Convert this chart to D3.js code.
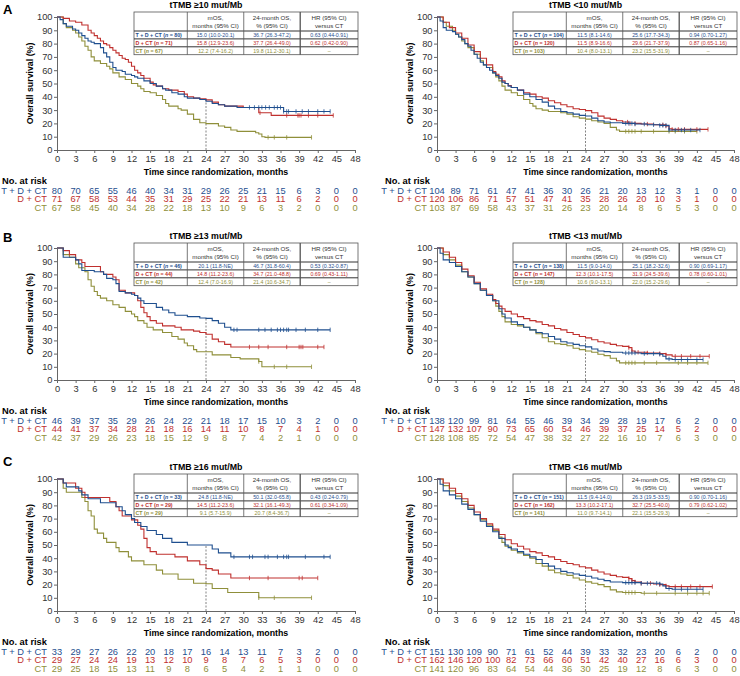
<!DOCTYPE html>
<html>
<head>
<meta charset="utf-8">
<script src="https://cdn.jsdelivr.net/npm/d3@7"></script>
<style>
  body { margin: 0; background: #fff; }
  svg { font-family: 'Liberation Sans', Arial, sans-serif; }
</style>
</head>
<body>
<div id="chart"></div>
<script>
// ---- data ----
var monthTicks = [0, 3, 6, 9, 12, 15, 18, 21, 24, 27, 30, 33, 36, 39, 42, 45, 48];
var survivalTicks = [0, 10, 20, 30, 40, 50, 60, 70, 80, 90, 100];
var armNames = ['T + D + CT', 'D + CT', 'CT'];
var armColors = ['#1f4f8f', '#c0302e', '#8f8f3a'];
var panelLetters = ['A', '', 'B', '', 'C', ''];
var panelTitles = ['tTMB \u226510 mut/Mb', 'tTMB <10 mut/Mb', 'tTMB \u226513 mut/Mb',
                   'tTMB <13 mut/Mb', 'tTMB \u226516 mut/Mb', 'tTMB <16 mut/Mb'];
var tableHeaders = [['mOS,', 'months (95% CI)'], ['24-month OS,', '% (95% CI)'], ['HR (95% CI)', 'versus CT']];

var armN = [[80, 71, 67], [104, 120, 103], [46, 44, 42], [138, 147, 128], [33, 29, 29], [151, 162, 141]];
var mosCI = [
  ['15.0 (10.0-20.1)', '15.8 (12.9-23.6)', '12.2 (7.4-16.2)'],
  ['11.5 (8.1-14.6)', '11.5 (8.9-16.6)', '10.4 (8.0-13.1)'],
  ['20.1 (11.8-NE)', '14.8 (11.2-23.6)', '12.4 (7.0-16.9)'],
  ['11.5 (9.0-14.0)', '12.3 (10.1-17.5)', '10.6 (9.0-13.1)'],
  ['24.8 (11.8-NE)', '14.5 (11.2-23.6)', '9.1 (5.7-15.9)'],
  ['11.5 (9.4-14.0)', '13.3 (10.2-17.1)', '11.0 (9.7-14.1)']
];
var os24CI = [
  ['36.7 (26.3-47.2)', '37.7 (26.4-49.0)', '19.8 (11.2-30.1)'],
  ['25.6 (17.7-34.3)', '29.6 (21.7-37.9)', '23.2 (15.5-31.9)'],
  ['46.7 (31.8-60.4)', '34.7 (21.0-48.8)', '21.4 (10.6-34.7)'],
  ['25.1 (18.2-32.6)', '31.9 (24.5-39.6)', '22.0 (15.2-29.6)'],
  ['50.1 (32.0-65.8)', '32.1 (16.1-49.3)', '20.7 (8.4-36.7)'],
  ['26.3 (19.5-33.5)', '32.7 (25.5-40.0)', '22.1 (15.5-29.3)']
];
var hrCI = [
  ['0.63 (0.44-0.91)', '0.62 (0.42-0.90)', '\u2013'],
  ['0.94 (0.70-1.27)', '0.87 (0.65-1.16)', '\u2013'],
  ['0.53 (0.32-0.87)', '0.69 (0.43-1.11)', '\u2013'],
  ['0.90 (0.69-1.17)', '0.78 (0.60-1.01)', '\u2013'],
  ['0.43 (0.24-0.79)', '0.61 (0.34-1.09)', '\u2013'],
  ['0.90 (0.70-1.16)', '0.79 (0.62-1.02)', '\u2013']
];
var os24 = [[36.7, 37.7, 19.8], [25.6, 29.6, 23.2], [46.7, 34.7, 21.4],
            [25.1, 31.9, 22.0], [50.1, 32.1, 20.7], [26.3, 32.7, 22.1]];

// numbers at risk (every 3 months, 0..48)
var riskA1 = [[80, 70, 65, 55, 46, 40, 34, 31, 29, 26, 25, 21, 15, 6, 3, 0, 0],
              [71, 67, 58, 53, 44, 35, 31, 29, 25, 22, 21, 13, 11, 6, 2, 0, 0],
              [67, 58, 45, 40, 34, 28, 22, 18, 13, 10, 9, 6, 3, 2, 0, 0, 0]];
var riskA2 = [[104, 89, 71, 61, 47, 41, 36, 30, 26, 21, 20, 13, 12, 3, 1, 0, 0],
              [120, 106, 86, 71, 57, 51, 47, 41, 35, 28, 26, 20, 10, 3, 1, 0, 0],
              [103, 87, 69, 58, 43, 37, 31, 26, 23, 20, 14, 8, 6, 5, 3, 0, 0]];
var riskB1 = [[46, 39, 37, 35, 29, 26, 24, 22, 21, 18, 17, 15, 10, 3, 2, 0, 0],
              [44, 41, 37, 34, 28, 21, 18, 16, 14, 11, 10, 8, 7, 4, 1, 0, 0],
              [42, 37, 29, 26, 23, 18, 15, 12, 9, 8, 7, 4, 2, 1, 0, 0, 0]];
var riskB2 = [[138, 120, 99, 81, 64, 55, 46, 39, 34, 29, 28, 19, 17, 6, 2, 0, 0],
              [147, 132, 107, 90, 73, 65, 60, 54, 46, 39, 37, 25, 14, 5, 2, 0, 0],
              [128, 108, 85, 72, 54, 47, 38, 32, 27, 22, 16, 10, 7, 6, 3, 0, 0]];
var riskC1 = [[33, 29, 27, 26, 22, 20, 18, 17, 16, 14, 13, 11, 7, 3, 2, 0, 0],
              [29, 27, 24, 24, 19, 13, 12, 10, 9, 8, 7, 6, 5, 3, 0, 0, 0],
              [29, 25, 18, 15, 13, 11, 9, 8, 6, 5, 4, 2, 1, 1, 0, 0, 0]];
var riskC2 = [[151, 130, 109, 90, 71, 61, 52, 44, 39, 33, 32, 23, 20, 6, 2, 0, 0],
              [162, 146, 120, 100, 82, 73, 66, 60, 51, 42, 40, 27, 16, 6, 3, 0, 0],
              [141, 120, 96, 83, 64, 54, 44, 36, 30, 25, 19, 12, 8, 6, 3, 0, 0]];

// Kaplan-Meier steps [month, % surviving] and censor times
var kmA1 = [
  [[0,100],[0.5,98],[1,95],[1.5,93],[2.5,91],[3,90],[3.5,88],[4,86],[4.5,84],[5,82],[5.5,81],[6,80],[7,77],[7.5,73],[8,70],[8.5,66],[9,62],[9.5,60],[10.5,59],[11,57],[12,56],[12.5,55],[13,54],[14,52],[15,50],[16,48],[17,46],[17.5,45],[18.5,43],[19.5,42],[20.5,40],[21,39],[23,38],[24,36.7],[25,35],[26,34],[27,33],[29,32],[36.5,29]],
  [[0,100],[1,99],[2,97],[3,96],[4,94],[5,90],[5.5,88],[6,86],[6.5,84],[7,82],[7.5,80],[8,79],[8.5,77],[9,75],[9.5,73],[10,71],[10.5,69],[11,68],[11.5,66],[12,63],[12.5,60],[13,58],[13.5,56],[14,54],[15,51],[15.5,49],[16,48],[17,46],[18,45],[19.5,44],[20.5,42],[21,40],[22,39],[23,38.5],[24,37.7],[25,36],[26,34],[27,33],[30,32],[32.5,28],[34.5,26]],
  [[0,100],[1,95],[1.5,92],[2.5,90],[3,88],[3.5,85],[4,82],[4.5,78],[5,75],[5.5,70],[6,67],[7,65],[8,63],[8.5,61],[9,58],[10,55],[11,53],[12,50],[13,48],[13.5,46],[14,44],[15,43],[16,41],[17,38],[17.5,35],[18,33],[19.5,31],[20,30],[21,27],[22,23],[23,20.5],[24,19.8],[26,18],[27,17],[28,15],[29,14],[32,13],[32.5,12],[33,10],[33.5,9.5]]
];
var censorA1 = [[31, 31.8, 32.5, 33, 33.6, 34.2, 35, 35.5, 36, 36.5, 37, 37.3, 38.5, 39.5, 40.5, 42, 43, 44],
                [32.7, 37, 38.8, 39, 39.3, 40.5, 42, 44.5],
                [34, 35, 37, 41]];

var kmA2 = [
  [[0,100],[0.5,97],[1,92],[1.5,90],[2.5,89],[3,87],[3.5,85],[4,83],[4.5,80],[5,78],[5.5,75],[6,72],[6.5,69],[7,66],[7.5,64],[8,62],[8.5,60],[9,58],[9.5,56],[10,54],[10.5,51],[11,50],[11.5,48],[12,47],[13,45],[14,42],[15,40],[16,38],[17,36],[18,33],[19,31],[20,29],[21,28],[22,27],[23,26],[24,25.6],[25,24],[26,22],[27,21],[28,20.5],[30,20],[32,19.5],[34,19],[36,18.5],[37.5,15]],
  [[0,100],[1,96],[2,92],[3,88],[4,84],[5,79],[6,74],[7,69],[8,64],[9,59],[9.5,57],[10,55],[10.5,52],[11,50],[11.5,48.5],[12,47],[13,45],[14,43],[15,42],[16,40],[17,39],[18,37],[19,35.5],[20,34],[21,32.5],[22,31],[23,30.5],[24,29.6],[25,28],[26,25.5],[27,24],[28,23],[29,22],[30,21],[31,20],[33,19.5],[35,19],[37,18],[37.5,16],[38,15.5]],
  [[0,100],[1,96],[1.5,93],[2.5,90],[3,87],[3.5,85],[4,82],[4.5,80],[5,77],[6,72],[7,67],[7.5,64],[8,62],[9,58],[9.5,55],[10,52],[10.5,48],[11,45],[12,43],[13,41],[14,38],[15,35],[15.5,33],[16,31],[17,30],[18,29],[20,28],[21,27],[22,25],[23,24],[24,23.2],[25,22],[26,21],[27,20],[28,17],[29,15],[29.5,14]]
];
var censorA2 = [[30.5, 31, 31.5, 32, 33.5, 35, 36, 36.5, 37, 37.5, 38.5, 39.5, 40, 41, 42.5],
                [30.8, 31.2, 32, 34, 36.5, 37, 38, 39, 40, 42, 43.8],
                [30.5, 31, 31.5, 32, 33, 35, 37.5, 38.5, 40, 42]];

var kmB1 = [
  [[0,100],[1,93],[3,91],[3.5,88],[4,83],[6,82],[7.5,80],[8,77],[9,76],[9.5,73],[10,67],[11,66],[12,65],[12.5,64],[13,62],[13.5,60],[14,58],[16,55],[17,53],[18,51],[19,49],[21,48],[23,47],[24,46.7],[25,45],[26,43],[27,40],[28,38]],
  [[0,100],[1,98],[2,95],[3,91],[4,89],[4.5,86],[7,82],[7.5,80],[9,78],[9.5,76],[10,68],[11,66],[12.5,64],[13,60],[13.5,55],[14,51],[14.5,48],[15,45],[16,43],[17,41],[19,40],[20,38],[22,37],[23,36],[24,34.7],[25,31],[26,29],[27,27],[28,25]],
  [[0,100],[1,95],[2,93],[3,88],[3.5,85],[4.5,82],[5,76],[5.5,71],[6,67],[6.5,64],[7,62],[8,60],[9,57],[10,55],[11,52],[12,50],[12.5,48],[13,45],[14,43],[14.5,40],[15.5,38],[17,36],[18.5,33],[19.5,31],[20.5,28],[21,26],[22,23],[22.5,21.4],[25,19],[28,17],[29.5,16],[32.5,14],[33,10]]
];
var censorB1 = [[28.5, 29, 32.5, 33.5, 34.5, 35.5, 36, 36.5, 37, 37.3, 38.5, 40, 42, 44],
                [31, 32.5, 34, 37, 39, 39.3, 39.6, 42, 43],
                [32.5, 35, 37, 41]];

var kmB2 = [
  [[0,100],[0.5,96],[1,91],[2,89],[3,86],[4,82],[5,78],[6,73],[7,68],[8,64],[9,60],[10,54],[10.5,50],[11,47],[12,44],[13,42],[14,40],[15,38],[16,36],[17,35],[18,33],[19,31],[20,29],[21,28],[22,27],[23,26],[24,25.1],[25,23.5],[26,22],[27,21.5],[28,21],[30,20.5],[33,20],[36,19.5],[36.5,18],[37,16],[38,15.5]],
  [[0,100],[1,97],[2,93],[3,89],[4,84],[5,79],[6,74],[7,69],[8,65],[9,61],[9.5,58],[10,56],[10.5,54],[11,52],[12,50],[13,48],[14,46.5],[15,45],[16,44],[17,42],[18,41],[19,39],[20,38],[21,36],[22,34.5],[23,33],[24,31.9],[25,30.5],[26,29],[27,28],[28,27],[29,26],[30,25.5],[31,24.5],[31.5,22],[32,21],[34,20.5],[36,20],[37,19],[38,18]],
  [[0,100],[1,95],[2,91],[3,87],[4,82],[5,78],[6,73],[7,68],[8,64],[9,60],[9.5,56],[10,52],[10.5,48],[11,44],[12,42],[13,41],[14,40],[15,38],[16,35],[17,32],[18,29],[19,27.5],[20,27],[21,26],[22,24],[23,23],[24,22],[25,21],[26,19.5],[27,18.5],[28,16.5],[29,14.5],[29.5,13]]
];
var censorB2 = [[30.5, 31, 31.5, 32, 33.5, 35, 36, 37.5, 38.5, 39.5, 40.5, 42, 43],
                [31, 31.5, 32.5, 34, 36, 37, 38.5, 39.5, 41, 42.5, 44],
                [30.5, 31, 31.5, 32, 33.5, 35.5, 39, 40.5, 42, 43.8]];

var kmC1 = [
  [[0,100],[1,97],[1.5,94],[3.5,91],[4,88],[5,85],[7,82],[9.5,79],[10.5,76],[11,73],[12,70],[12.5,67],[13.5,64],[14.5,61],[16,58],[17,55],[18.5,52],[21,50],[25,47],[26,44],[28,41]],
  [[0,100],[1,97],[3,93],[4,90],[4.5,86],[8.5,83],[9.5,79],[10,76],[10.5,72],[12,69],[13,65],[13.5,62],[14,55],[14.5,48],[15,45],[16,43],[19,41],[21,38],[23,35],[24,32.1],[25,31],[26,28],[28,25]],
  [[0,100],[1,93],[1.5,90],[4,86],[4.5,83],[5,76],[5.5,72],[6,62],[6.5,59],[7.5,55],[8,52],[9.5,48],[10,45],[11.5,41],[12,38],[14,35],[16,31],[17,28],[19.5,24],[22,21],[24,20.7],[25,17],[27.5,14],[32.5,10]]
];
var censorC1 = [[28.5, 31, 31.5, 33.5, 34, 35.5, 36.5, 37, 37.3, 40, 43, 44],
                [31, 34, 39, 39.5, 42],
                [32.5, 35, 41]];

var kmC2 = [
  [[0,100],[0.5,96],[1,91],[2,88],[3,85],[4,81],[5,77],[6,73],[7,68],[8,64],[9,60],[10,55],[11,50],[11.5,48],[12,47],[13,45],[14,43],[15,41],[16,39],[17,36],[18,34],[19,32],[20,30],[21,29],[22,28],[23,27],[24,26.3],[25,25],[26,24],[27,23],[28,22],[30,21.5],[33,21],[36,20.5],[36.5,19],[37,17],[38,16.5]],
  [[0,100],[1,97],[2,93],[3,89],[4,85],[5,80],[6,75],[7,70],[8,66],[9,62],[10,58],[11,54],[12,51],[13,49],[14,47],[15,45],[16,44],[17,42],[18,41],[19,39],[20,37.5],[21,36],[22,35],[23,33.5],[24,32.7],[25,31],[26,29.5],[27,28],[28,27],[29,26],[30,25.5],[31,24.5],[31.5,23],[32,22],[33,21],[35,20.5],[36,20],[37,19],[37.5,18.5]],
  [[0,100],[1,95],[2,91],[3,87],[4,83],[5,78],[6,73],[7,69],[8,65],[9,61],[10,56],[10.5,52],[11,49],[12,46],[13,44],[14,42],[15,40],[16,36],[17,34],[18,31],[19,29],[20,28],[21,27],[22,25],[23,23.5],[24,22.1],[25,21],[26,20],[27,18.5],[28,16],[29,14.5],[30,14],[33,13.5]]
];
var censorC2 = [[30.5, 31, 31.5, 32, 33, 34, 35.5, 36, 37.5, 38.5, 39.5, 40.5, 42, 43],
                [31, 31.5, 32, 33, 34.5, 36, 37, 38.5, 39.5, 41, 42.5, 44.5],
                [30.5, 31, 31.5, 32, 33.5, 35.5, 38.5, 40.5, 42, 43, 44]];

// ---- layout ----
var W = 740, H = 676;
var panels = [
  { x0: 57,  x1: 355, y0: 17,  y1: 150, km: kmA1, cens: censorA1, risk: riskA1, lx: 2,   ly: 9 },
  { x0: 437, x1: 734, y0: 17,  y1: 150, km: kmA2, cens: censorA2, risk: riskA2, lx: 385 },
  { x0: 57,  x1: 355, y0: 248, y1: 380, km: kmB1, cens: censorB1, risk: riskB1, lx: 2,   ly: 237 },
  { x0: 437, x1: 734, y0: 248, y1: 380, km: kmB2, cens: censorB2, risk: riskB2, lx: 385 },
  { x0: 57,  x1: 355, y0: 479, y1: 611, km: kmC1, cens: censorC1, risk: riskC1, lx: 2,   ly: 461 },
  { x0: 437, x1: 734, y0: 479, y1: 611, km: kmC2, cens: censorC2, risk: riskC2, lx: 385 }
];

var svg = d3.select('#chart').append('svg')
  .attr('width', W)
  .attr('height', H);

function survAt(steps, t) {
  var v = steps[0][1];
  steps.forEach(function(p) { if (p[0] <= t) v = p[1]; });
  return v;
}

panels.forEach(function(p, pi) {
  var g = svg.append('g');
  var x = d3.scaleLinear().domain([0, 48]).range([p.x0, p.x1]);
  var y = d3.scaleLinear().domain([0, 100]).range([p.y1, p.y0]);

  // panel letter
  if (panelLetters[pi]) {
    g.append('text')
      .attr('x', 3).attr('y', p.ly)
      .attr('dy', '0.36em')
      .style('font-size', '13px')
      .style('font-weight', 'bold')
      .text(panelLetters[pi]);
  }

  // title
  g.append('text')
    .attr('x', (p.x0 + p.x1) / 2).attr('y', p.y0 - 12)
    .attr('dy', '0.36em')
    .attr('text-anchor', 'middle')
    .style('font-size', '8.8px')
    .style('font-weight', 'bold')
    .text(panelTitles[pi]);

  // axes
  var xAxis = g.append('g')
    .attr('transform', 'translate(0,' + p.y1 + ')')
    .call(d3.axisBottom(x).tickValues(monthTicks).tickSize(3).tickPadding(2).tickSizeOuter(0));
  var yAxis = g.append('g')
    .attr('transform', 'translate(' + p.x0 + ',0)')
    .call(d3.axisLeft(y).tickValues(survivalTicks).tickSize(3).tickPadding(1.5).tickSizeOuter(0));
  [xAxis, yAxis].forEach(function(a) {
    a.selectAll('path, line').attr('stroke', '#666');
    a.selectAll('text').style('font-size', '9.3px').attr('fill', '#333')
      .style('font-family', "'Liberation Sans', Arial, sans-serif");
  });

  g.append('text')
    .attr('x', (p.x0 + p.x1) / 2 + 10).attr('y', p.y1 + 22)
    .attr('dy', '0.36em')
    .attr('text-anchor', 'middle')
    .style('font-size', '8.8px')
    .style('font-weight', 'bold')
    .text('Time since randomization, months');

  g.append('text')
    .attr('transform', 'translate(' + (p.x0 - 27) + ',' + ((p.y0 + p.y1) / 2) + ') rotate(-90)')
    .attr('dy', '0.36em')
    .attr('text-anchor', 'middle')
    .style('font-size', '8.8px')
    .style('font-weight', 'bold')
    .text('Overall survival (%)');

  // 24-month reference line
  var top24 = d3.max(os24[pi]);
  g.append('line')
    .attr('x1', x(24)).attr('x2', x(24))
    .attr('y1', y(0)).attr('y2', y(top24))
    .attr('stroke', '#777')
    .attr('stroke-width', 0.9)
    .attr('stroke-dasharray', '2,1.5');

  // curves, CT drawn first so the others sit on top
  var line = d3.line()
    .x(function(d) { return x(d[0]); })
    .y(function(d) { return y(d[1]); })
    .curve(d3.curveStepAfter);

  [2, 1, 0].forEach(function(ai) {
    var steps = p.km[ai].slice();
    var cens = p.cens[ai];
    var tEnd = d3.max(cens);
    steps.push([tEnd, steps[steps.length - 1][1]]);
    g.append('path')
      .datum(steps)
      .attr('fill', 'none')
      .attr('stroke', armColors[ai])
      .attr('stroke-width', 1.1)
      .attr('d', line);
    g.selectAll(null)
      .data(cens)
      .enter().append('line')
      .attr('x1', function(t) { return x(t); })
      .attr('x2', function(t) { return x(t); })
      .attr('y1', function(t) { return y(survAt(p.km[ai], t)) - 2.2; })
      .attr('y2', function(t) { return y(survAt(p.km[ai], t)) + 2.2; })
      .attr('stroke', armColors[ai])
      .attr('stroke-width', 0.8);
  });

  // summary table
  var tx0 = p.x1 - 221, tx1 = p.x1 + 3;
  var cols = [0, 0.238, 0.49, 0.742, 1].map(function(f) { return tx0 + f * (tx1 - tx0); });
  var ty0 = p.y0 - 5, hh = 19, rh = 7.9;
  var ty1 = ty0 + hh + 3 * rh;
  var t = g.append('g');
  t.append('rect')
    .attr('x', tx0).attr('y', ty0)
    .attr('width', tx1 - tx0).attr('height', ty1 - ty0)
    .attr('fill', '#fff')
    .attr('stroke', '#555')
    .attr('stroke-width', 0.8);
  [ty0 + hh, ty0 + hh + rh, ty0 + hh + 2 * rh].forEach(function(yy) {
    t.append('line')
      .attr('x1', tx0).attr('x2', tx1).attr('y1', yy).attr('y2', yy)
      .attr('stroke', '#333').attr('stroke-width', 1);
  });
  cols.slice(1, 4).forEach(function(xx, ci) {
    t.append('line')
      .attr('x1', xx).attr('x2', xx).attr('y1', ty0).attr('y2', ty1)
      .attr('stroke', '#555').attr('stroke-width', ci === 2 ? 1.3 : 0.8);
  });
  tableHeaders.forEach(function(h, ci) {
    var cx = (cols[ci + 1] + cols[ci + 2]) / 2;
    h.forEach(function(s, li) {
      t.append('text')
        .attr('x', cx).attr('y', ty0 + 6 + li * 7.5)
        .attr('dy', '0.36em')
        .attr('text-anchor', 'middle')
        .attr('fill', '#333')
        .style('font-size', '6.2px')
        .text(s);
    });
  });
  armNames.forEach(function(name, ai) {
    var ry = ty0 + hh + rh * ai + rh / 2;
    var lab = t.append('text')
      .attr('x', tx0 + 1.5).attr('y', ry)
      .attr('dy', '0.36em')
      .attr('fill', armColors[ai])
      .style('font-size', '5.3px')
      .style('font-weight', 'bold');
    lab.append('tspan').text(name + ' (');
    lab.append('tspan').style('font-style', 'italic').text('n');
    lab.append('tspan').text(' = ' + armN[pi][ai] + ')');
    [mosCI[pi][ai], os24CI[pi][ai], hrCI[pi][ai]].forEach(function(s, ci) {
      t.append('text')
        .attr('x', (cols[ci + 1] + cols[ci + 2]) / 2).attr('y', ry)
        .attr('dy', '0.36em')
        .attr('text-anchor', 'middle')
        .attr('fill', armColors[ai])
        .style('font-size', '5.3px')
        .text(s);
    });
  });

  // numbers at risk
  g.append('text')
    .attr('x', p.lx).attr('y', p.y1 + 31)
    .attr('dy', '0.36em')
    .style('font-size', '9.3px')
    .style('font-weight', 'bold')
    .text('No. at risk');
  p.risk.forEach(function(row, ai) {
    var ry = p.y1 + 40.5 + ai * 8.6;
    g.append('text')
      .attr('x', p.x0 - 10).attr('y', ry)
      .attr('dy', '0.36em')
      .attr('text-anchor', 'end')
      .attr('fill', armColors[ai])
      .style('font-size', '9.3px')
      .text(armNames[ai]);
    g.selectAll(null)
      .data(row)
      .enter().append('text')
      .attr('x', function(d, i) { return x(monthTicks[i]); })
      .attr('y', ry)
      .attr('dy', '0.36em')
      .attr('text-anchor', 'middle')
      .attr('fill', armColors[ai])
      .style('font-size', '9.3px')
      .text(function(d) { return d; });
  });
});
</script>
</body>
</html>
